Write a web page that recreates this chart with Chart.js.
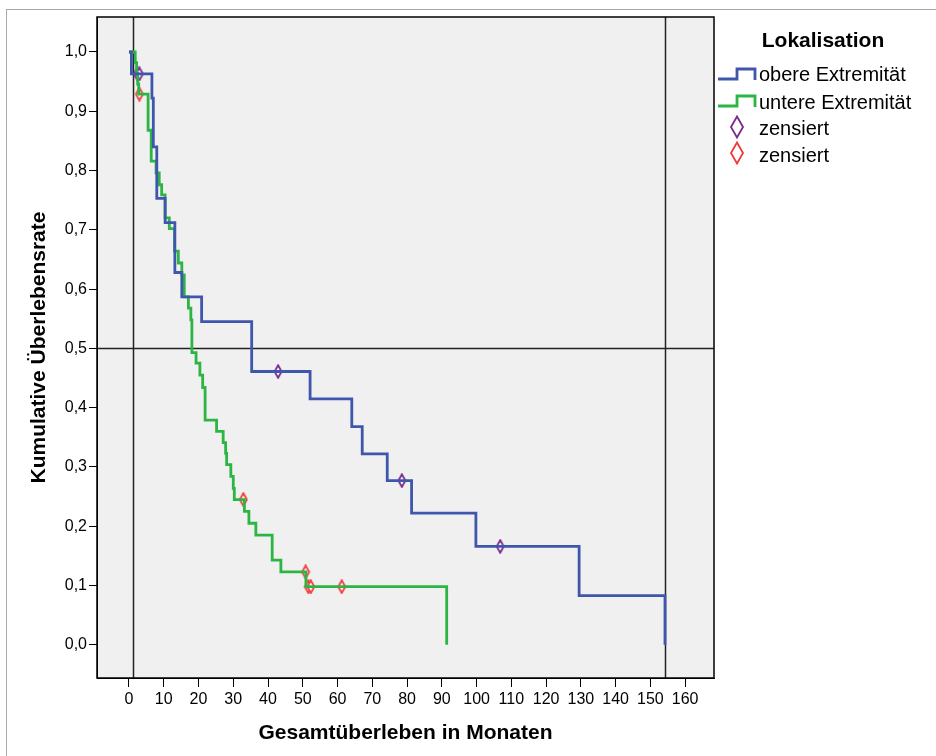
<!DOCTYPE html>
<html lang="de">
<head>
    <meta charset="UTF-8">
    <title>Gesamtüberleben nach Lokalisation</title>
    <script src="https://cdn.jsdelivr.net/npm/chart.js@4"></script>
    <style>
        html, body {
            margin: 0;
            padding: 0;
            background: #fff;
            overflow: hidden;
        }
        #wrap {
            position: relative;
            width: 936px;
            height: 756px;
            font-family: 'Liberation Sans', Arial, sans-serif;
            color: #000;
        }
        #frame {
            position: absolute;
            left: 6px;
            top: 9px;
            width: 980px;
            height: 800px;
            border: 1px solid #a8a8a8;
        }
        #chart {
            position: absolute;
            left: 0;
            top: 0;
        }
        .lg-title {
            position: absolute;
            left: 714px;
            width: 218px;
            top: 27px;
            text-align: center;
            font-weight: bold;
            font-size: 21px;
            line-height: 26px;
        }
        .lg-text {
            position: absolute;
            left: 759px;
            font-size: 20px;
            line-height: 24px;
            white-space: nowrap;
        }
        .lg-icon {
            position: absolute;
        }
    </style>
</head>
<body>
<div id="wrap">
    <div id="frame"></div>
    <canvas id="chart" width="936" height="756"></canvas>

    <!-- Legende -->
    <div class="lg-title">Lokalisation</div>
    <svg class="lg-icon" style="left:716px; top:66px" width="42" height="16">
        <polyline points="2,13 21,13 21,3 39,3 39,14" fill="none" stroke="#3f56ad" stroke-width="2.8"/>
    </svg>
    <div class="lg-text" style="top:62px">obere Extremität</div>
    <svg class="lg-icon" style="left:716px; top:93px" width="42" height="16">
        <polyline points="2,13 21,13 21,3 39,3 39,14" fill="none" stroke="#2cb543" stroke-width="2.8"/>
    </svg>
    <div class="lg-text" style="top:90px">untere Extremität</div>
    <svg class="lg-icon" style="left:729px; top:115px" width="16" height="24">
        <polygon points="8,1.5 14,12 8,22.5 2,12" fill="#fff" stroke="#7a2a8c" stroke-width="1.8"/>
    </svg>
    <div class="lg-text" style="top:116px">zensiert</div>
    <svg class="lg-icon" style="left:729px; top:141px" width="16" height="24">
        <polygon points="8,1.5 14,12 8,22.5 2,12" fill="#fff" stroke="#f03a3a" stroke-width="1.8"/>
    </svg>
    <div class="lg-text" style="top:143px">zensiert</div>
</div>

<script>
    // Kaplan-Meier Stufen (Monate / kumulative Überlebensrate)
    const blueTime = [0, 0.7, 6.6, 7.0, 8.0, 10.4, 13.2, 15.2, 20.9, 35.3, 52.1, 64.1, 67.1, 74.3, 81.3, 99.8, 129.5, 154.2];
    const blueSurv = [1.0, 0.963, 0.922, 0.840, 0.753, 0.712, 0.628, 0.587, 0.545, 0.461, 0.415, 0.368, 0.322, 0.277, 0.222, 0.166, 0.083, 0.0];
    const blueCensored = [2.4, 3.0, 42.9, 78.5, 106.8];

    const greenTime = [0, 1.8, 2.2, 2.5, 2.8, 5.5, 6.4, 7.8, 8.7, 9.4, 10.4, 11.6, 13.1, 14.2, 15.2, 15.9, 17.1, 17.8, 18.1, 19.3, 20.4, 21.2, 21.9, 25.2, 27.1, 27.8, 28.1, 29.3, 30.0, 30.3, 33.2, 34.5, 36.5, 41.2, 43.7, 50.9, 91.4];
    const greenSurv = [1.0, 0.982, 0.964, 0.946, 0.929, 0.868, 0.816, 0.796, 0.776, 0.759, 0.720, 0.702, 0.664, 0.644, 0.624, 0.587, 0.568, 0.548, 0.493, 0.475, 0.455, 0.434, 0.379, 0.360, 0.341, 0.323, 0.304, 0.284, 0.264, 0.245, 0.225, 0.205, 0.185, 0.143, 0.123, 0.098, 0.0];
    const greenCensored = [3.0, 32.9, 50.8, 51.6, 52.3, 61.2];

    const xTicks = [0, 10, 20, 30, 40, 50, 60, 70, 80, 90, 100, 110, 120, 130, 140, 150, 160];
    const yTicks = [0, 0.1, 0.2, 0.3, 0.4, 0.5, 0.6, 0.7, 0.8, 0.9, 1.0];
    const refX = [1.1, 154.2];
    const refY = [0.5];

    const FONT = "'Liberation Sans', Arial, sans-serif";

    function stepPoints(times, surv) {
        return times.map((t, i) => ({ x: t, y: surv[i] }));
    }

    function survAt(times, surv, t) {
        let s = surv[0];
        for (let i = 0; i < times.length; i++) {
            if (times[i] <= t) s = surv[i];
        }
        return s;
    }

    function censorPoints(cens, times, surv) {
        return cens.map(t => ({ x: t, y: survAt(times, surv, t) }));
    }

    // schmale Raute als Punktsymbol
    function diamond(color) {
        const w = 10, h = 15;
        const c = document.createElement('canvas');
        c.width = w;
        c.height = h;
        const g = c.getContext('2d');
        g.beginPath();
        g.moveTo(w / 2, 1.2);
        g.lineTo(w - 1.5, h / 2);
        g.lineTo(w / 2, h - 1.2);
        g.lineTo(1.5, h / 2);
        g.closePath();
        g.fillStyle = '#fff';
        g.fill();
        g.lineWidth = 1.8;
        g.strokeStyle = color;
        g.stroke();
        return c;
    }

    const plotFrame = {
        id: 'plotFrame',
        beforeDraw(chart) {
            const { ctx, chartArea: a } = chart;
            ctx.save();
            ctx.fillStyle = '#f0f0f0';
            ctx.fillRect(a.left, a.top, a.right - a.left, a.bottom - a.top);
            ctx.restore();
        },
        beforeDatasetsDraw(chart) {
            const { ctx, chartArea: a, scales } = chart;
            ctx.save();
            ctx.strokeStyle = '#222';
            ctx.lineWidth = 1.5;
            refX.forEach(v => {
                const px = Math.round(scales.x.getPixelForValue(v)) + 0.5;
                ctx.beginPath();
                ctx.moveTo(px, a.top);
                ctx.lineTo(px, a.bottom);
                ctx.stroke();
            });
            refY.forEach(v => {
                const py = Math.round(scales.y.getPixelForValue(v)) + 0.5;
                ctx.beginPath();
                ctx.moveTo(a.left, py);
                ctx.lineTo(a.right, py);
                ctx.stroke();
            });
            ctx.restore();
        },
        afterDraw(chart) {
            const { ctx, chartArea: a } = chart;
            ctx.save();
            ctx.strokeStyle = '#000';
            ctx.lineWidth = 1.5;
            ctx.strokeRect(a.left, a.top, a.right - a.left, a.bottom - a.top);
            ctx.restore();
        }
    };

    const ctx = document.getElementById('chart').getContext('2d');
    const chart = new Chart(ctx, {
        type: 'scatter',
        data: {
            datasets: [
                {
                    label: 'obere Extremität',
                    data: stepPoints(blueTime, blueSurv),
                    showLine: true,
                    stepped: 'before',
                    borderColor: '#3f56ad',
                    borderWidth: 2.8,
                    pointRadius: 0,
                    fill: false
                },
                {
                    label: 'untere Extremität',
                    data: stepPoints(greenTime, greenSurv),
                    showLine: true,
                    stepped: 'before',
                    borderColor: '#2cb543',
                    borderWidth: 2.8,
                    pointRadius: 0,
                    fill: false
                },
                {
                    label: 'zensiert',
                    data: censorPoints(blueCensored, blueTime, blueSurv),
                    showLine: false,
                    pointStyle: diamond('#7a2a8c'),
                    pointRadius: 5
                },
                {
                    label: 'zensiert',
                    data: censorPoints(greenCensored, greenTime, greenSurv),
                    showLine: false,
                    pointStyle: diamond('#f03a3a'),
                    pointRadius: 5
                }
            ]
        },
        options: {
            responsive: false,
            animation: false,
            devicePixelRatio: 1,
            layout: { padding: { top: 17, right: 222, left: 0, bottom: 0 } },
            plugins: {
                legend: { display: false },
                tooltip: { enabled: false }
            },
            scales: {
                x: {
                    type: 'linear',
                    min: -9.2,
                    max: 168.3,
                    afterBuildTicks: s => { s.ticks = xTicks.map(v => ({ value: v })); },
                    afterFit: s => { s.height = 78; },
                    ticks: {
                        color: '#000',
                        font: { size: 16, family: FONT },
                        padding: 3,
                        maxRotation: 0,
                        autoSkip: false
                    },
                    grid: { display: true, drawOnChartArea: false, drawTicks: true, tickLength: 9, color: '#000' },
                    border: { display: true, color: '#000' },
                    title: {
                        display: true,
                        text: 'Gesamtüberleben in Monaten',
                        color: '#000',
                        font: { size: 21, weight: 'bold', family: FONT },
                        padding: { top: 0, bottom: 10 }
                    }
                },
                y: {
                    type: 'linear',
                    min: -0.056,
                    max: 1.059,
                    afterBuildTicks: s => { s.ticks = yTicks.map(v => ({ value: v })); },
                    afterFit: s => { s.width = 97; },
                    ticks: {
                        color: '#000',
                        font: { size: 16, family: FONT },
                        padding: 2,
                        autoSkip: false,
                        callback: v => v.toFixed(1).replace('.', ',')
                    },
                    grid: { display: true, drawOnChartArea: false, drawTicks: true, tickLength: 8, color: '#000' },
                    border: { display: true, color: '#000' },
                    title: {
                        display: true,
                        text: 'Kumulative Überlebensrate',
                        color: '#000',
                        font: { size: 21, weight: 'bold', family: FONT },
                        padding: { top: 27, bottom: 0 }
                    }
                }
            }
        },
        plugins: [plotFrame]
    });
</script>
</body>
</html>
